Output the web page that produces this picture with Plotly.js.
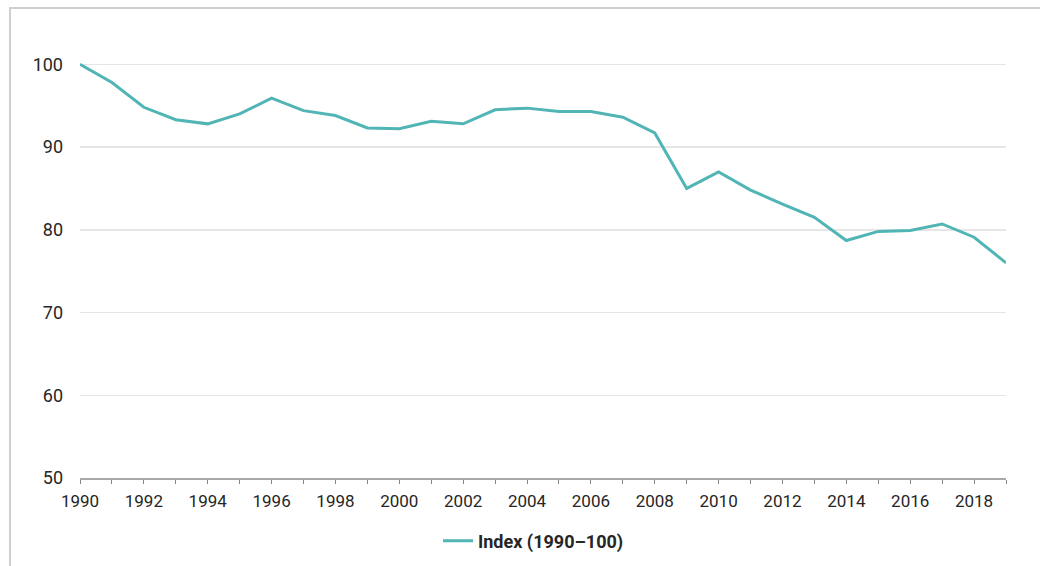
<!DOCTYPE html>
<html>
<head>
<meta charset="utf-8">
<script src="https://cdn.plot.ly/plotly-3.0.1.min.js"></script>
<style>
html,body{margin:0;padding:0;background:#fff;}
#frame{position:absolute;left:9px;top:7px;width:1031px;height:559px;border-left:2px solid #cfcfcf;border-top:2px solid #cfcfcf;}
#chart{position:absolute;left:0;top:0;width:1040px;height:566px;}
</style>
</head>
<body>
<div id="frame"></div>
<div id="chart"></div>
<script>
const years = [1990,1991,1992,1993,1994,1995,1996,1997,1998,1999,2000,2001,2002,2003,2004,2005,2006,2007,2008,2009,2010,2011,2012,2013,2014,2015,2016,2017,2018,2019];
const indexValues = [100,97.8,94.8,93.3,92.8,94.0,95.9,94.4,93.8,92.3,92.2,93.1,92.8,94.5,94.7,94.3,94.3,93.6,91.7,85.0,87.0,84.8,83.1,81.5,78.7,79.8,79.9,80.7,79.1,76.0];
const seriesName = 'Index (1990–100)';
const yTicks = [50,60,70,80,90,100];
const xTickText = years.map(y => (y % 2 === 0 ? String(y) : ''));

const trace = {
  x: years, y: indexValues, name: seriesName, type: 'scatter', mode: 'lines',
  line: {color: '#52b5b5', width: 3}, cliponaxis: false
};

const layout = {
  width: 1040, height: 566,
  margin: {l: 80, r: 34, t: 56, b: 88},
  paper_bgcolor: 'rgba(0,0,0,0)', plot_bgcolor: 'rgba(0,0,0,0)',
  font: {family: 'Roboto, sans-serif', size: 17, color: '#262626'},
  showlegend: true,
  legend: {orientation: 'h', xref: 'container', yref: 'container', x: 0.513, xanchor: 'center', y: 0.044, yanchor: 'middle',
           font: {size: 18, color: '#262626', family: 'Roboto, sans-serif', weight: 'bold'}},
  xaxis: {
    range: [1990, 2019], tickmode: 'array', tickvals: years, ticktext: xTickText,
    showgrid: false, zeroline: false, showline: true, linecolor: '#a8a8a8', linewidth: 2,
    ticks: 'outside', ticklen: 4, tickcolor: '#888', tickwidth: 1, ticklabelstandoff: 3,
    tickfont: {size: 17, color: '#262626'}
  },
  yaxis: {
    range: [50, 101], tickmode: 'array', tickvals: yTicks,
    showgrid: true, gridcolor: '#e6e6e6', gridwidth: 1.5, zeroline: false, showline: false,
    ticks: '', ticklabelstandoff: 16, tickfont: {size: 18, color: '#262626'}
  }
};

Plotly.newPlot('chart', [trace], layout, {displayModeBar: false, staticPlot: true});
</script>
</body>
</html>
